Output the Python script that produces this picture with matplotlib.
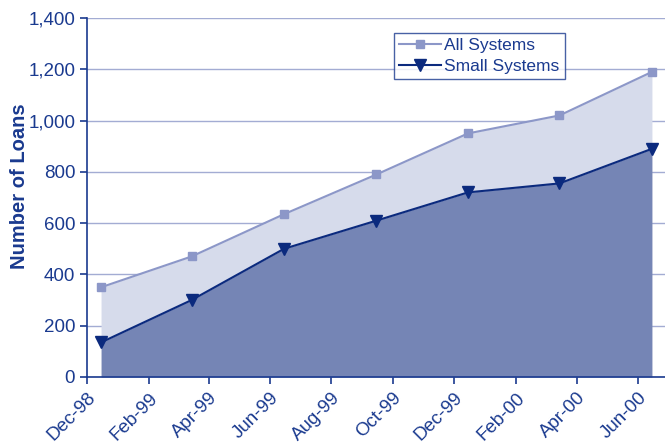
import numpy as np
import pandas as pd
import matplotlib
matplotlib.use("Agg")
import matplotlib.pyplot as plt
import matplotlib.dates as mdates

plt.rcParams["font.family"] = ["Liberation Sans", "DejaVu Sans"]

# quarterly loan counts (mid-month)
dates = pd.to_datetime([
    "1998-12-15", "1999-03-15", "1999-06-15", "1999-09-15",
    "1999-12-15", "2000-03-15", "2000-06-15",
])
all_systems = [350, 470, 635, 790, 950, 1020, 1190]
small_systems = [135, 300, 500, 610, 720, 755, 890]

NAVY = "#1a3a8f"
DARK_LINE = "#0b2a7e"
LIGHT_LINE = "#8c97c8"
DARK_FILL = "#7585b5"
LIGHT_FILL = "#d6dbeb"
GRID = "#a3acd3"

fig = plt.figure(figsize=(6.65, 4.47), dpi=100)
ax = fig.add_axes([0.1308, 0.1566, 0.8692, 0.8031])

ax.fill_between(dates, small_systems, all_systems, color=LIGHT_FILL, lw=0, zorder=2)
ax.fill_between(dates, 0, small_systems, color=DARK_FILL, lw=0, zorder=2)

ax.plot(dates, all_systems, color=LIGHT_LINE, lw=1.5, marker="s",
        markersize=6, markerfacecolor=LIGHT_LINE, markeredgecolor=LIGHT_LINE,
        label="All Systems", zorder=3)
ax.plot(dates, small_systems, color=DARK_LINE, lw=1.5, marker="v",
        markersize=8.5, markerfacecolor=DARK_LINE, markeredgecolor=DARK_LINE,
        label="Small Systems", zorder=4)

ax.set_ylim(0, 1400)
ax.set_xlim(pd.Timestamp("1998-12-01"), pd.Timestamp("2000-06-28"))
ax.set_yticks(np.arange(0, 1401, 200))
ax.yaxis.set_major_formatter(matplotlib.ticker.FuncFormatter(lambda v, p: f"{int(v):,}"))
ax.grid(axis="y", color=GRID, lw=1, zorder=1)
ax.set_axisbelow(True)

ax.xaxis.set_major_locator(mdates.MonthLocator(bymonth=[2, 4, 6, 8, 10, 12]))
ax.xaxis.set_major_formatter(mdates.DateFormatter("%b-%y"))

for side in ["top", "right"]:
    ax.spines[side].set_visible(False)
for side in ["left", "bottom"]:
    ax.spines[side].set_color(NAVY)
    ax.spines[side].set_linewidth(1.2)
    ax.spines[side].set_zorder(5)

ax.tick_params(axis="both", colors=NAVY, labelcolor=NAVY, labelsize=13.5,
               length=5, width=1.2)
ax.tick_params(axis="x", pad=4)
for lbl in ax.get_xticklabels():
    lbl.set_rotation(45)
    lbl.set_ha("right")
    lbl.set_rotation_mode("anchor")

ax.set_ylabel("Number of Loans", color=NAVY, fontsize=14.5, fontweight="bold")
ax.yaxis.set_label_coords(-0.100, 0.532)

leg = ax.legend(loc="upper left", bbox_to_anchor=(0.531, 0.958),
                frameon=True, fancybox=False, fontsize=12.5, handlelength=2.4,
                borderpad=0.3, labelspacing=0.3, handletextpad=0.2,
                borderaxespad=0)
leg.get_frame().set_edgecolor(NAVY)
leg.get_frame().set_linewidth(1.0)
for t in leg.get_texts():
    t.set_color(NAVY)

fig.savefig("out.png", dpi=100)
